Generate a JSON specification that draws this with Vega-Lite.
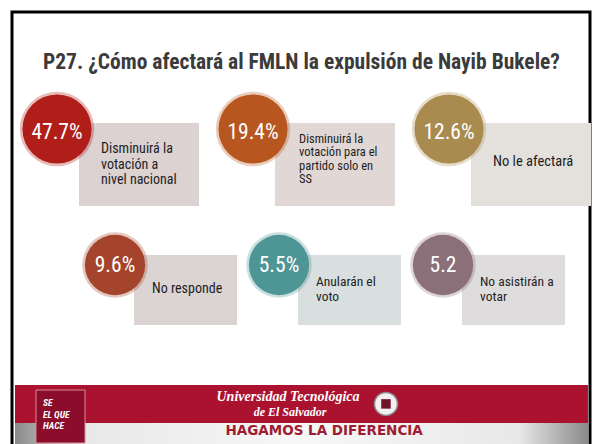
{
  "$schema": "https://vega.github.io/schema/vega-lite/v6.json",
  "width": 578,
  "height": 434,
  "autosize": "none",
  "padding": {"left": 12, "top": 12, "right": 12, "bottom": 0},
  "background": "white",
  "title": {
    "text": "P27. ¿Cómo afectará al FMLN la expulsión de Nayib Bukele?",
    "anchor": "start",
    "frame": "group",
    "dx": 31,
    "offset": -78,
    "baseline": "alphabetic",
    "font": "Liberation Sans Narrow, Roboto Condensed, DejaVu Sans Condensed, sans-serif",
    "fontSize": 21.5,
    "fontWeight": "bold",
    "color": "#3b3b3b"
  },
  "config": {"view": {"stroke": "#000000", "strokeWidth": 3}},
  "datasets": {
    "respuestas": [
      {"respuesta": "Disminuirá la votación a nivel nacional", "texto": "Disminuirá la\nvotación a\nnivel nacional", "porcentaje": 47.7, "rotulo": "47.7%", "fila": 1, "columna": 1},
      {"respuesta": "Disminuirá la votación para el partido solo en SS", "texto": "Disminuirá la\nvotación para el\npartido solo en\nSS", "porcentaje": 19.4, "rotulo": "19.4%", "fila": 1, "columna": 2},
      {"respuesta": "No le afectará", "texto": "No le afectará", "porcentaje": 12.6, "rotulo": "12.6%", "fila": 1, "columna": 3},
      {"respuesta": "No responde", "texto": "No responde", "porcentaje": 9.6, "rotulo": "9.6%", "fila": 2, "columna": 1},
      {"respuesta": "Anularán el voto", "texto": "Anularán el\nvoto", "porcentaje": 5.5, "rotulo": "5.5%", "fila": 2, "columna": 2},
      {"respuesta": "No asistirán a votar", "texto": "No asistirán a\nvotar", "porcentaje": 5.2, "rotulo": "5.2", "fila": 2, "columna": 3}
    ]
  },
  "resolve": {"scale": {"x": "independent", "y": "independent"}},
  "layer": [
    {
      "data": {"values": [{}]},
      "layer": [
        {
          "mark": {"type": "rect", "color": "#ab1230"},
          "encoding": {
            "x": {"datum": 0.0052, "type": "quantitative", "axis": null, "scale": {"domain": [0, 1]}},
            "x2": {"datum": 0.9965},
            "y": {"datum": 0.8594, "type": "quantitative", "axis": null, "scale": {"domain": [0, 1], "reverse": true}},
            "y2": {"datum": 0.947}
          }
        },
        {
          "mark": {"type": "rect", "fill": {"gradient": "linear", "stops": [{"offset": 0, "color": "#8a8a8a"}, {"offset": 0.12, "color": "#e8e8e8"}, {"offset": 0.5, "color": "#f7f7f7"}, {"offset": 0.88, "color": "#e8e8e8"}, {"offset": 1, "color": "#8a8a8a"}]}},
          "encoding": {
            "x": {"datum": 0.0052, "type": "quantitative"},
            "x2": {"datum": 0.9965},
            "y": {"datum": 0.947, "type": "quantitative"},
            "y2": {"datum": 1}
          }
        },
        {
          "mark": {"type": "rect", "color": "#8c0c2b", "stroke": "#d98a9a", "strokeWidth": 1},
          "encoding": {
            "x": {"datum": 0.0415, "type": "quantitative"},
            "x2": {"datum": 0.1263},
            "y": {"datum": 0.871, "type": "quantitative"},
            "y2": {"datum": 0.993}
          }
        },
        {
          "mark": {"type": "text", "text": "SE\nEL QUE\nHACE", "lineBreak": "\n", "lineHeight": 11.5, "align": "left", "baseline": "top", "font": "Liberation Sans Narrow, Roboto Condensed, DejaVu Sans Condensed, sans-serif", "fontSize": 9.5, "fontWeight": "bold", "fontStyle": "italic", "color": "white"},
          "encoding": {
            "x": {"datum": 0.0536, "type": "quantitative"},
            "y": {"datum": 0.89, "type": "quantitative"}
          }
        },
        {
          "mark": {"type": "text", "text": "Universidad Tecnológica", "align": "center", "baseline": "alphabetic", "font": "Liberation Serif, DejaVu Serif, serif", "fontSize": 14, "fontWeight": "bold", "fontStyle": "italic", "color": "white"},
          "encoding": {
            "x": {"datum": 0.4775, "type": "quantitative"},
            "y": {"datum": 0.897, "type": "quantitative"}
          }
        },
        {
          "mark": {"type": "text", "text": "de El Salvador", "align": "center", "baseline": "alphabetic", "font": "Liberation Serif, DejaVu Serif, serif", "fontSize": 12, "fontWeight": "bold", "fontStyle": "italic", "color": "white"},
          "encoding": {
            "x": {"datum": 0.481, "type": "quantitative"},
            "y": {"datum": 0.932, "type": "quantitative"}
          }
        },
        {
          "mark": {"type": "point", "shape": "circle", "filled": true, "size": 531, "opacity": 1, "color": "#f2f0f0", "stroke": "#8a8a8a", "strokeWidth": 1.5},
          "encoding": {
            "x": {"datum": 0.647, "type": "quantitative"},
            "y": {"datum": 0.903, "type": "quantitative"}
          }
        },
        {
          "mark": {"type": "point", "shape": "square", "filled": true, "size": 90, "opacity": 1, "color": "#6e1426"},
          "encoding": {
            "x": {"datum": 0.647, "type": "quantitative"},
            "y": {"datum": 0.903, "type": "quantitative"}
          }
        },
        {
          "mark": {"type": "text", "text": "HAGAMOS LA DIFERENCIA", "align": "center", "baseline": "alphabetic", "font": "DejaVu Sans, sans-serif", "fontSize": 13.5, "fontWeight": "bold", "color": "#9e1b32"},
          "encoding": {
            "x": {"datum": 0.54, "type": "quantitative"},
            "y": {"datum": 0.9747, "type": "quantitative"}
          }
        }
      ]
    },
    {
      "data": {"name": "respuestas"},
      "transform": [{"filter": "datum.fila == 1"}],
      "encoding": {
        "x": {"field": "columna", "type": "quantitative", "axis": null, "scale": {"domain": [1, 3], "range": [45, 437]}},
        "y": {"field": "fila", "type": "quantitative", "axis": null, "scale": {"domain": [1, 2], "range": [117, 253]}}
      },
      "layer": [
        {
          "mark": {"type": "rect", "xOffset": 22, "x2Offset": 142, "yOffset": -6, "y2Offset": 77},
          "encoding": {
            "x2": {"field": "columna"},
            "y2": {"field": "fila"},
            "fill": {"field": "respuesta", "type": "nominal", "legend": null, "scale": {"domain": ["Disminuirá la votación a nivel nacional", "Disminuirá la votación para el partido solo en SS", "No le afectará", "No responde", "Anularán el voto", "No asistirán a votar"], "range": ["#dcd2d2", "#e1d8d5", "#e4e1dd", "#dcd3d3", "#d8dfde", "#dedcdd"]}}
          }
        },
        {
          "mark": {"type": "point", "shape": "circle", "filled": true, "size": 5542, "opacity": 0.3},
          "encoding": {
            "color": {"field": "respuesta", "type": "nominal", "legend": null, "scale": {"domain": ["Disminuirá la votación a nivel nacional", "Disminuirá la votación para el partido solo en SS", "No le afectará", "No responde", "Anularán el voto", "No asistirán a votar"], "range": ["#b01e1a", "#b8561f", "#a98b50", "#a5442c", "#4e9696", "#8c7079"]}}
          }
        },
        {
          "mark": {"type": "point", "shape": "circle", "filled": true, "size": 4778, "opacity": 1},
          "encoding": {
            "color": {"field": "respuesta", "type": "nominal", "legend": null}
          }
        },
        {
          "mark": {"type": "text", "align": "center", "baseline": "alphabetic", "yOffset": 10, "font": "Liberation Sans Narrow, Roboto Condensed, DejaVu Sans Condensed, sans-serif", "fontSize": 21.5, "color": "white"},
          "encoding": {"text": {"field": "rotulo"}}
        },
        {
          "transform": [{"filter": "length(split(datum.texto, '\\n')) == 1"}],
          "mark": {"type": "text", "align": "left", "baseline": "middle", "xOffset": 44, "yOffset": 33, "lineBreak": "\n", "lineHeight": 15.5, "font": "Liberation Sans Narrow, Roboto Condensed, DejaVu Sans Condensed, sans-serif", "fontSize": 14.5, "color": "#1e1e1e"},
          "encoding": {"text": {"field": "texto"}}
        },
        {
          "transform": [{"filter": "length(split(datum.texto, '\\n')) == 3"}],
          "mark": {"type": "text", "align": "left", "baseline": "middle", "xOffset": 44, "yOffset": 20, "lineBreak": "\n", "lineHeight": 15.5, "font": "Liberation Sans Narrow, Roboto Condensed, DejaVu Sans Condensed, sans-serif", "fontSize": 14, "color": "#1e1e1e"},
          "encoding": {"text": {"field": "texto"}}
        },
        {
          "transform": [{"filter": "length(split(datum.texto, '\\n')) == 4"}],
          "mark": {"type": "text", "align": "left", "baseline": "middle", "xOffset": 46, "yOffset": 9.5, "lineBreak": "\n", "lineHeight": 13.5, "font": "Liberation Sans Narrow, Roboto Condensed, DejaVu Sans Condensed, sans-serif", "fontSize": 12.5, "color": "#1e1e1e"},
          "encoding": {"text": {"field": "texto"}}
        }
      ]
    },
    {
      "data": {"name": "respuestas"},
      "transform": [{"filter": "datum.fila == 2"}],
      "encoding": {
        "x": {"field": "columna", "type": "quantitative", "axis": null, "scale": {"domain": [1, 3], "range": [103, 431]}},
        "y": {"field": "fila", "type": "quantitative", "axis": null, "scale": {"domain": [1, 2], "range": [117, 253]}}
      },
      "layer": [
        {
          "mark": {"type": "rect", "xOffset": 19, "x2Offset": 122, "yOffset": -10, "y2Offset": 60},
          "encoding": {
            "x2": {"field": "columna"},
            "y2": {"field": "fila"},
            "fill": {"field": "respuesta", "type": "nominal", "legend": null}
          }
        },
        {
          "mark": {"type": "point", "shape": "circle", "filled": true, "size": 4301, "opacity": 0.3},
          "encoding": {
            "color": {"field": "respuesta", "type": "nominal", "legend": null}
          }
        },
        {
          "mark": {"type": "point", "shape": "circle", "filled": true, "size": 3632, "opacity": 1},
          "encoding": {
            "color": {"field": "respuesta", "type": "nominal", "legend": null}
          }
        },
        {
          "mark": {"type": "text", "align": "center", "baseline": "alphabetic", "yOffset": 7, "font": "Liberation Sans Narrow, Roboto Condensed, DejaVu Sans Condensed, sans-serif", "fontSize": 21.5, "color": "white"},
          "encoding": {"text": {"field": "rotulo"}}
        },
        {
          "transform": [{"filter": "length(split(datum.texto, '\\n')) == 1"}],
          "mark": {"type": "text", "align": "left", "baseline": "middle", "xOffset": 37, "yOffset": 24, "lineBreak": "\n", "lineHeight": 14.5, "font": "Liberation Sans Narrow, Roboto Condensed, DejaVu Sans Condensed, sans-serif", "fontSize": 14, "color": "#1e1e1e"},
          "encoding": {"text": {"field": "texto"}}
        },
        {
          "transform": [{"filter": "length(split(datum.texto, '\\n')) == 2"}],
          "mark": {"type": "text", "align": "left", "baseline": "middle", "xOffset": 37, "yOffset": 17, "lineBreak": "\n", "lineHeight": 14.5, "font": "Liberation Sans Narrow, Roboto Condensed, DejaVu Sans Condensed, sans-serif", "fontSize": 13.5, "color": "#1e1e1e"},
          "encoding": {"text": {"field": "texto"}}
        }
      ]
    }
  ]
}
